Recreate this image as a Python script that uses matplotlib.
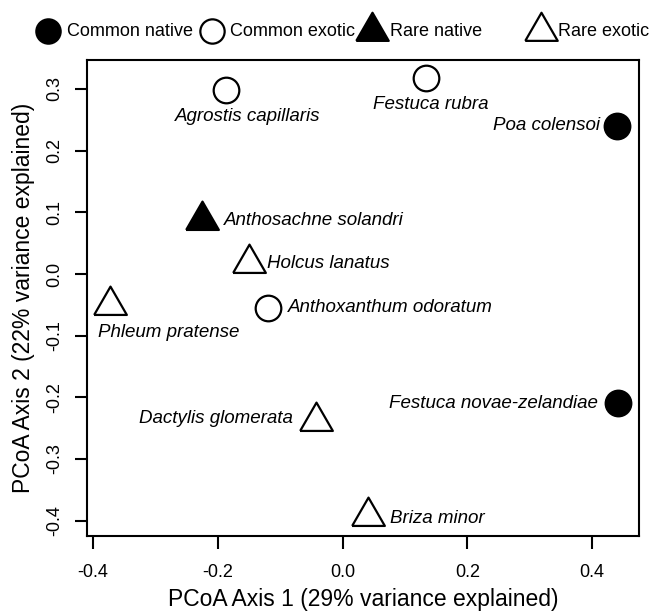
import matplotlib
matplotlib.use("Agg")
import matplotlib.pyplot as plt
from matplotlib.lines import Line2D

plt.rcParams['font.family'] = ['Liberation Sans', 'DejaVu Sans']

species = ["Agrostis capillaris", "Festuca rubra", "Poa colensoi", "Anthosachne solandri",
           "Holcus lanatus", "Phleum pratense", "Anthoxanthum odoratum",
           "Festuca novae-zelandiae", "Dactylis glomerata", "Briza minor"]
axis1 = [-0.187, 0.134, 0.440, -0.225, -0.150, -0.372, -0.120, 0.441, -0.042, 0.041]
axis2 = [0.299, 0.318, 0.240, 0.088, 0.017, -0.050, -0.056, -0.210, -0.238, -0.393]
group = ["Common exotic", "Common exotic", "Common native", "Rare native",
         "Rare exotic", "Rare exotic", "Common exotic", "Common native",
         "Rare exotic", "Rare exotic"]

# label placement (pixel offsets from point, alignment)
label_dx = [22, 5, -17, 22, 18, 58, 20, -20, -23, 22]
label_dy = [-27, -27, 0, -1, 0, -28, 1, 0, 2, -2]
label_ha = ["center", "center", "right", "left", "left", "center", "left", "right", "right", "left"]

groups = ["Common native", "Common exotic", "Rare native", "Rare exotic"]
tri = [(-1, -0.577), (1, -0.577), (0, 1.155), (-1, -0.577)]
style = {
    "Common native": dict(marker="o", fc="black", s=340, ms=17.5),
    "Common exotic": dict(marker="o", fc="white", s=340, ms=17.5),
    "Rare native": dict(marker=tri, fc="black", s=740, ms=27),
    "Rare exotic": dict(marker=tri, fc="white", s=740, ms=27),
}

fig = plt.figure(figsize=(6.51, 6.14), dpi=100)
ax = fig.add_axes([87/651, 1-536/614, (639-87)/651, (536-60)/614])

for x, y, g in zip(axis1, axis2, group):
    st = style[g]
    ax.scatter([x], [y], marker=st["marker"], s=st["s"], facecolor=st["fc"],
               edgecolor="black", linewidth=1.6, zorder=3)

for name, x, y, dx, dy, ha in zip(species, axis1, axis2, label_dx, label_dy, label_ha):
    ax.annotate(name, (x, y), xytext=(dx, dy), textcoords="offset pixels",
                ha=ha, va="center", style="italic", fontsize=13.5)

ax.set_xlim(-0.4095, 0.475)
ax.set_ylim(-0.425, 0.347)
ax.set_xticks([-0.4, -0.2, 0.0, 0.2, 0.4])
ax.set_xticklabels(["-0.4", "-0.2", "0.0", "0.2", "0.4"])
ax.set_yticks([-0.4, -0.3, -0.2, -0.1, 0.0, 0.1, 0.2, 0.3])
ax.set_yticklabels(["-0.4", "-0.3", "-0.2", "-0.1", "0.0", "0.1", "0.2", "0.3"],
                   rotation=90, va="center")
ax.tick_params(direction="out", length=9, width=1.5, labelsize=13)
ax.tick_params(axis="x", pad=11)
ax.tick_params(axis="y", pad=8)
for sp in ax.spines.values():
    sp.set_linewidth(1.5)
ax.set_xlabel("PCoA Axis 1 (29% variance explained)", fontsize=16.5, labelpad=5)
ax.set_ylabel("PCoA Axis 2 (22% variance explained)", fontsize=16.5, labelpad=8)

# legend row above plot
leg_x = [47.5, 212, 372, 541]
leg_tx = [67, 230, 390, 558]
leg_y = 1 - 31/614
for g, mx, tx in zip(groups, leg_x, leg_tx):
    st = style[g]
    fig.add_artist(Line2D([mx/651], [leg_y], marker=st["marker"], markersize=st["ms"],
                          markerfacecolor=st["fc"], markeredgecolor="black",
                          markeredgewidth=1.6, linestyle="none", transform=fig.transFigure))
    fig.text(tx/651, leg_y, g, ha="left", va="center", fontsize=13)

fig.savefig("out.png", dpi=100)
